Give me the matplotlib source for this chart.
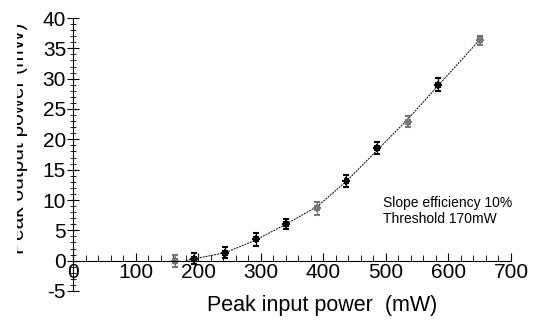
import matplotlib.pyplot as plt
from matplotlib.transforms import Bbox, TransformedBbox
from matplotlib.ticker import MultipleLocator

plt.rcParams['font.family'] = ['Liberation Sans', 'DejaVu Sans']
plt.rcParams['axes.unicode_minus'] = False

# Datos
p_in = [163, 193, 243, 292, 340, 390, 437, 486, 535, 583, 650]
p_out = [0.0, 0.3, 1.3, 3.5, 6.1, 8.6, 13.2, 18.6, 22.9, 29.0, 36.3]
err_y = [1.0, 0.9, 0.9, 1.1, 0.8, 1.0, 1.0, 1.0, 0.9, 1.1, 0.8]
err_x = [3, 3, 3, 3, 3, 3, 3, 3, 3, 3, 3]
colores = ['#777777', 'black', 'black', 'black', 'black', '#777777',
           'black', 'black', '#777777', 'black', '#777777']

# Curva de ajuste
fit_x = [180, 193, 243, 292, 340, 390, 437, 486, 535, 583, 650]
fit_y = [0.0, 0.3, 1.3, 3.4, 6.0, 8.9, 13.1, 18.2, 23.3, 28.8, 36.4]

fig = plt.figure(figsize=(5.33, 3.24), dpi=100)
ax = fig.add_axes([73 / 533, 1 - 291 / 324, 438 / 533, 273 / 324])

ax.plot(fit_x, fit_y, color='black', lw=0.7, ls=(0, (2, 1)))
for x, y, ex, ey, c in zip(p_in, p_out, err_x, err_y, colores):
    ax.errorbar(x, y, yerr=ey, xerr=ex, fmt='+', color=c, ms=6, mew=1.5,
                elinewidth=0.9, capsize=2)

ax.set_xlim(0, 700)
ax.set_ylim(-5, 40)
ax.spines['left'].set_position(('data', 0))
ax.spines['bottom'].set_position(('data', 0))
ax.spines['top'].set_visible(False)
ax.spines['right'].set_visible(False)
ax.xaxis.set_major_locator(MultipleLocator(100))
ax.xaxis.set_minor_locator(MultipleLocator(20))
ax.yaxis.set_major_locator(MultipleLocator(5))
ax.yaxis.set_minor_locator(MultipleLocator(1))
ax.tick_params(axis='x', which='major', direction='in', length=6, labelsize=15, pad=2)
ax.tick_params(axis='x', which='minor', direction='in', length=4)
ax.tick_params(axis='y', which='major', direction='inout', length=8, labelsize=15, pad=1)
ax.tick_params(axis='y', which='minor', direction='inout', length=4)

ax.text(496, 10.6, 'Slope efficiency 10%\nThreshold 170mW', fontsize=10,
        va='top', ha='left', linespacing=1.15)

fig.text(322 / 533, 1 - 305 / 324, 'Peak input power  (mW)', ha='center',
         va='center', fontsize=15.5)

# etiqueta del eje y recortada como en el original
ylab = fig.text(28 / 533, 1 - 138 / 324, 'Peak output power (mW)', rotation=90,
                ha='right', va='center', fontsize=15)
ylab.set_clip_box(TransformedBbox(Bbox([[17 / 533, 0], [1, 1]]), fig.transFigure))
ylab.set_clip_on(True)

fig.savefig('out.png', dpi=100)
